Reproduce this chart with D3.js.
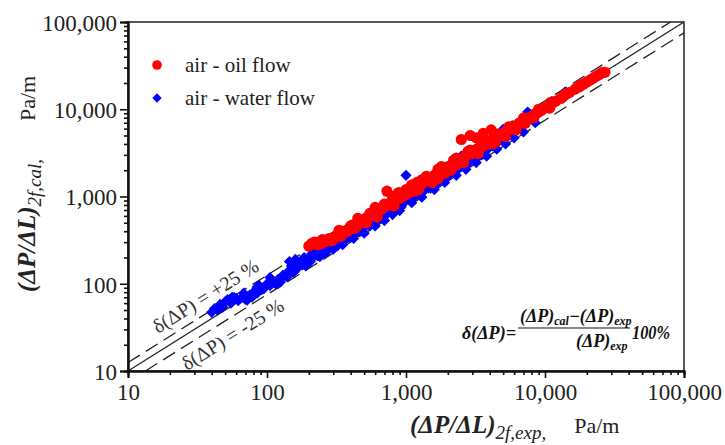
<!DOCTYPE html>
<html>
<head>
<meta charset="utf-8">
<script src="https://cdn.jsdelivr.net/npm/d3@7"></script>
<style>
  body { margin: 0; background: #fff; }
  svg, svg text { font-family: "Liberation Serif", "Times New Roman", Times, "DejaVu Serif", serif; }
</style>
</head>
<body>
<svg id="chart" width="725" height="445"></svg>
<script>
// measured vs calculated pressure gradient, Pa/m
const oilExp = [200, 220, 240, 260, 280, 300, 320, 350, 380, 400, 420, 450, 480, 500, 520, 550, 580, 600, 620, 650,
  680, 700, 730, 750, 780, 800, 820, 850, 880, 900, 950, 1000, 1050, 1100, 1150, 1200, 1250, 1300, 1400, 1500,
  1550, 1600, 1700, 1800, 1900, 2000, 2100, 2200, 2300, 2500, 2500, 2700, 2900, 3000, 3200, 3200, 3500, 3600, 3800, 4100,
  4000, 4300, 4500, 4800, 5000, 5300, 5600, 6000, 6300, 6600, 7000, 7500, 8000, 8500, 9000, 9500, 10000, 10500, 11000, 12000,
  13000, 14000, 15000, 16500, 18000, 20000, 22000, 24000, 26000, 1200, 1700, 2600, 3300, 4400, 5200, 6200, 7200, 8300, 10800, 4200,
  210, 230, 250, 270, 290, 310, 340, 360, 390, 410, 440, 470, 510, 540, 570, 610, 640, 670, 720, 760,
  790, 840, 870, 920, 970, 1020, 1080, 1130, 1180, 1230, 1280, 1350, 1450, 1650, 1750, 1850, 1950, 2050, 2150, 2250,
  2400, 2700, 2800, 3100, 3400, 3700, 3900, 4600, 5500, 6500, 7800, 9200, 11500, 13500, 17500, 19000, 21000, 23000, 25000, 27000,
  250, 330, 450, 600, 800, 1100, 1400, 1800, 2300, 2900, 3600, 4500, 5500, 7000, 9000, 11000, 14000, 18000, 300, 550,
  900, 1300, 1700, 2200, 2800];
const oilCal = [270, 300, 285, 300, 330, 320, 360, 370, 400, 460, 430, 480, 520, 540, 500, 600, 620, 650, 580, 700,
  760, 820, 1150, 800, 850, 900, 780, 1000, 1100, 950, 1050, 1200, 1100, 1350, 1150, 1450, 1300, 1400, 1500, 1600,
  1450, 1750, 1800, 1950, 1850, 2200, 2000, 2400, 2300, 4500, 2700, 2900, 5000, 3100, 4700, 3400, 3700, 5300, 4000, 5800,
  4300, 4500, 4800, 5000, 5300, 5700, 5800, 6300, 6500, 7000, 7300, 7600, 8300, 8900, 9300, 9800, 10500, 10800, 11500, 12400,
  13300, 14600, 15500, 17000, 18500, 20500, 22500, 24500, 26500, 1250, 1600, 2450, 3100, 4200, 4900, 5800, 6900, 8000, 10300, 4000,
  290, 280, 310, 320, 310, 350, 350, 400, 430, 470, 450, 500, 560, 600, 620, 640, 700, 720, 780, 830,
  800, 900, 950, 1000, 1020, 1150, 1200, 1250, 1300, 1200, 1350, 1500, 1550, 1800, 1900, 2100, 2000, 2150, 2300, 2400,
  2600, 3000, 3000, 3300, 3600, 3900, 4200, 4900, 5900, 6900, 8100, 9600, 12000, 14000, 18000, 19500, 21500, 23500, 25500, 26500,
  320, 410, 560, 750, 1000, 1350, 1700, 2200, 2750, 3400, 4200, 5200, 6300, 7900, 10000, 12000, 15000, 19000, 340, 640,
  1100, 1550, 2050, 2600, 3300];

const waterExp = [40, 42, 44, 46, 48, 50, 52, 55, 58, 62, 66, 70, 75, 80, 85, 88, 92, 100, 105, 110,
  120, 130, 140, 150, 160, 170, 180, 200, 210, 230, 250, 270, 290, 310, 330, 350, 370, 400, 420, 450,
  480, 500, 530, 560, 600, 620, 650, 700, 740, 780, 820, 870, 900, 950, 1000, 1000, 1050, 1100, 1200, 1300,
  1400, 1500, 1600, 1700, 1800, 1900, 2000, 2200, 2400, 2600, 2800, 3000, 3300, 3600, 4000, 4300, 4800, 5200, 5600, 6000,
  6500, 7500, 8000, 9000, 10000, 11200, 12500, 13900, 145, 300, 640, 1350, 2100,
  45, 47, 53, 56, 60, 72, 78, 95, 115, 125, 135, 155, 165, 190, 205, 220, 240, 260, 280, 320,
  340, 360, 390, 410, 440, 460, 490, 520, 550, 580, 610, 660, 690, 720, 760, 800, 850, 880, 930, 980,
  1080, 1150, 1250, 1350, 1450, 1550, 1650, 1750, 1850, 2000, 2300, 2500, 2700, 2900, 3200, 3500, 3800, 4200, 4600, 5000, 5500,
  160, 185, 230, 260, 300, 350, 420, 500, 600, 700, 800, 900, 1100, 1300, 1600, 1900, 2300, 2700, 3200, 3800,
  4500, 5200, 6000, 7000, 8500, 250, 380, 560, 750, 1200, 1700, 2500, 3500, 5000, 190, 140, 120, 68, 85, 105];
const waterCal = [47, 52, 50, 58, 54, 62, 66, 60, 70, 64, 70, 66, 74, 80, 78, 95, 86, 100, 95, 108,
  112, 125, 135, 160, 150, 175, 165, 190, 220, 210, 240, 260, 300, 280, 320, 360, 330, 390, 440, 420,
  470, 450, 520, 500, 580, 620, 560, 680, 650, 760, 720, 850, 780, 920, 1750, 900, 1000, 960, 1150, 1100,
  1300, 1250, 1500, 1400, 1700, 1600, 1800, 2000, 2100, 2500, 2400, 2800, 3000, 3300, 3700, 4000, 4500, 5000, 5400, 6200,
  7000, 9300, 8200, 9000, 10200, 12300, 12800, 15700, 180, 260, 560, 1200, 1900,
  52, 55, 64, 70, 68, 65, 70, 88, 100, 105, 125, 135, 150, 165, 180, 210, 205, 230, 250, 270,
  300, 310, 340, 360, 380, 400, 430, 470, 460, 490, 540, 580, 610, 640, 700, 660, 740, 800, 790, 880,
  980, 990, 1080, 1200, 1250, 1400, 1450, 1500, 1750, 1700, 2000, 2200, 2300, 2600, 2700, 3000, 3400, 3800, 4200, 4400, 5000,
  190, 200, 250, 220, 250, 280, 330, 380, 460, 530, 620, 690, 850, 980, 1200, 1450, 1750, 2050, 2450, 2900,
  3500, 4000, 4700, 5500, 7000, 280, 420, 640, 850, 1400, 1950, 2900, 4100, 5900, 160, 120, 100, 78, 92, 118];

const decades = [10, 100, 1000, 10000, 100000];
const seriesNames = ["air - oil flow", "air - water flow"];
const bandFactors = [1.25, 1, 0.75];

const serif = "'Liberation Serif', 'Times New Roman', Times, 'DejaVu Serif', serif";
const svg = d3.select("#chart").attr("font-family", serif);
const x = d3.scaleLog().domain([10, 100000]).range([128, 684]);
const y = d3.scaleLog().domain([10, 100000]).range([371, 22]);
const fmt = d3.format(",");

const minors = [];
decades.slice(0, -1).forEach(d => { for (let k = 2; k <= 9; k++) minors.push(d * k); });

// frame (top and right)
svg.append("rect")
  .attr("x", x(10)).attr("y", y(100000))
  .attr("width", x(100000) - x(10)).attr("height", y(10) - y(100000))
  .attr("fill", "none").attr("stroke", "#222").attr("stroke-width", 1.5);

// reference lines
const lineGen = d3.line().x(d => x(d[0])).y(d => y(d[1]));
bandFactors.forEach(f => {
  const x0 = f > 1 ? 10 : 10 / f;
  const x1 = f > 1 ? 100000 / f : 100000;
  svg.append("path")
    .attr("d", lineGen([[x0, x0 * f], [x1, x1 * f]]))
    .attr("fill", "none")
    .attr("stroke", "#222")
    .attr("stroke-width", 1.3)
    .attr("stroke-dasharray", f === 1 ? null : "14,7");
});

// data points
const waterPts = waterExp.map((v, i) => [v, waterCal[i]]);
const oilPts = oilExp.map((v, i) => [v, oilCal[i]]);
const diamond = d3.symbol().type(d3.symbolDiamond2).size(80);

svg.append("g").selectAll("path")
  .data(waterPts)
  .enter().append("path")
  .attr("d", diamond)
  .attr("transform", d => `translate(${x(d[0])},${y(d[1])})`)
  .attr("fill", "#0000ff");

svg.append("g").selectAll("circle")
  .data(oilPts)
  .enter().append("circle")
  .attr("cx", d => x(d[0]))
  .attr("cy", d => y(d[1]))
  .attr("r", 5.6)
  .attr("fill", "#ff0000");

// axes
const axisStyle = g => {
  g.attr("font-family", serif);
  g.select(".domain").attr("stroke", "#111").attr("stroke-width", 2);
  g.selectAll(".tick line").attr("stroke", "#111").attr("stroke-width", 1.6);
  g.selectAll(".tick text").attr("font-size", 23).attr("fill", "#222");
};

svg.append("g")
  .attr("transform", `translate(${x(10)},0)`)
  .call(d3.axisLeft(y).tickValues(minors).tickSize(4).tickFormat(""))
  .call(axisStyle);
svg.append("g")
  .attr("transform", `translate(${x(10)},0)`)
  .call(d3.axisLeft(y).tickValues(decades).tickSize(8).tickPadding(3).tickFormat(fmt))
  .call(axisStyle)
  .selectAll(".tick text").attr("dy", "0.36em");

svg.append("g")
  .attr("transform", `translate(0,${y(10)})`)
  .call(d3.axisBottom(x).tickValues(minors).tickSize(4).tickFormat(""))
  .call(axisStyle);
svg.append("g")
  .attr("transform", `translate(0,${y(10)})`)
  .call(d3.axisBottom(x).tickValues(decades).tickSize(7).tickPadding(6).tickFormat(fmt))
  .call(axisStyle);

// axis titles
const yTitle = svg.append("text")
  .attr("transform", "translate(35,292) rotate(-90)")
  .attr("fill", "#222");
yTitle.append("tspan").attr("font-size", 25).attr("font-weight", "bold").attr("font-style", "italic").text("(ΔP/ΔL)");
yTitle.append("tspan").attr("font-size", 19).attr("font-style", "italic").attr("dy", 6).text("2f,cal,");
yTitle.append("tspan").attr("font-size", 22).attr("dy", -6).attr("dx", 38).text("Pa/m");

const xTitle = svg.append("text")
  .attr("x", 410).attr("y", 433)
  .attr("fill", "#222");
xTitle.append("tspan").attr("font-size", 25).attr("font-weight", "bold").attr("font-style", "italic").text("(ΔP/ΔL)");
xTitle.append("tspan").attr("font-size", 19).attr("font-style", "italic").attr("dy", 6).text("2f,exp,");
xTitle.append("tspan").attr("font-size", 22).attr("dy", -6).attr("dx", 28).text("Pa/m");

// legend
const legend = svg.append("g");
legend.append("circle").attr("cx", 157).attr("cy", 65).attr("r", 4.8).attr("fill", "#ff0000");
legend.append("path").attr("d", d3.symbol().type(d3.symbolDiamond2).size(55))
  .attr("transform", "translate(157,98)").attr("fill", "#0000ff");
legend.selectAll("text")
  .data(seriesNames)
  .enter().append("text")
  .attr("x", 185)
  .attr("y", (d, i) => 72 + i * 33)
  .attr("font-size", 21)
  .attr("fill", "#222")
  .text(d => d);

// band labels
const angle = -Math.atan((y(10) - y(100)) / (x(100) - x(10))) * 180 / Math.PI;
svg.append("text")
  .attr("transform", `translate(158,334) rotate(${angle})`)
  .attr("font-size", 20).attr("fill", "#333")
  .text("δ(ΔP) = +25 %");
svg.append("text")
  .attr("transform", `translate(187,371) rotate(${angle})`)
  .attr("font-size", 20).attr("fill", "#333")
  .text("δ(ΔP) = -25 %");

// formula
const formula = svg.append("g")
  .attr("font-weight", "bold").attr("font-style", "italic").attr("fill", "#111");
formula.append("text").attr("x", 462).attr("y", 339).attr("font-size", 19)
  .attr("textLength", 54).attr("lengthAdjust", "spacingAndGlyphs").text("δ(ΔP)=");
const num = formula.append("text").attr("x", 520).attr("y", 322).attr("font-size", 18);
num.append("tspan").text("(ΔP)");
num.append("tspan").attr("font-size", 12).attr("dy", 3).text("cal");
num.append("tspan").attr("dy", -3).text("−(ΔP)");
num.append("tspan").attr("font-size", 12).attr("dy", 3).text("exp");
formula.append("line").attr("x1", 518).attr("x2", 630).attr("y1", 328).attr("y2", 328)
  .attr("stroke", "#111").attr("stroke-width", 1);
const den = formula.append("text").attr("x", 576).attr("y", 347).attr("font-size", 18);
den.append("tspan").text("(ΔP)");
den.append("tspan").attr("font-size", 12).attr("dy", 3).text("exp");
formula.append("text").attr("x", 632).attr("y", 339).attr("font-size", 18)
  .attr("textLength", 38).attr("lengthAdjust", "spacingAndGlyphs").text("100%");
</script>
</body>
</html>
